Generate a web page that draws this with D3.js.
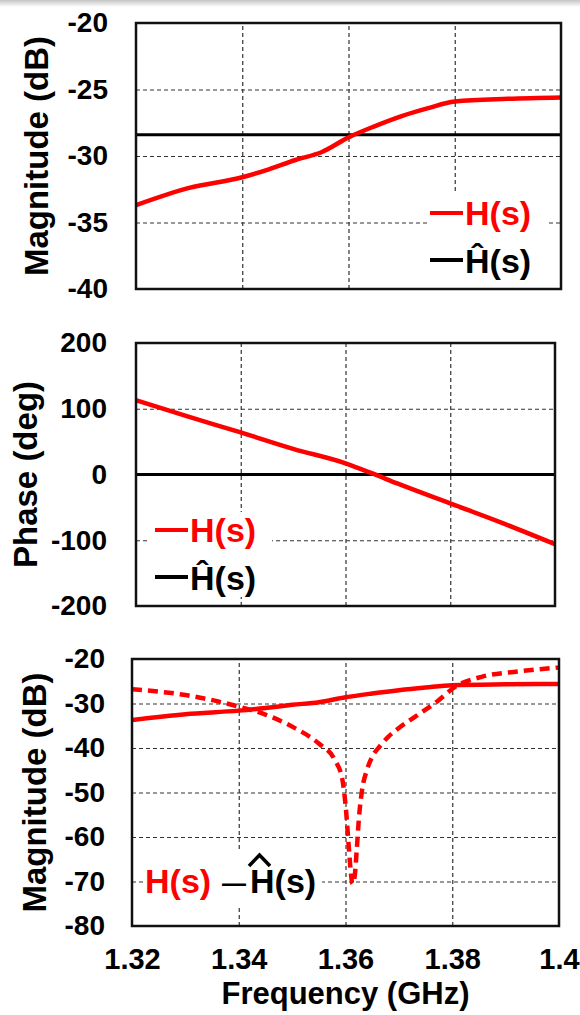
<!DOCTYPE html>
<html>
<head>
<meta charset="utf-8">
<script src="https://cdn.jsdelivr.net/npm/d3@7"></script>
<style>
  body { margin: 0; background: #fff; }
  svg text { font-family: "Liberation Sans", Arial, sans-serif; font-weight: bold; }
</style>
</head>
<body>
<div id="chart"></div>
<script>
var width = 580;
var height = 1015;

// frequency axis (GHz)
var xTicks = [1.32, 1.34, 1.36, 1.38, 1.40];
var xTickLabels = ["1.32", "1.34", "1.36", "1.38", "1.4"];

// |H(s)| in dB
var magFreq = [1.32, 1.33, 1.34, 1.345, 1.35, 1.355, 1.36, 1.365, 1.37, 1.375, 1.38, 1.39, 1.40];
var magH    = [-33.7, -32.4, -31.6, -31.0, -30.3, -29.7, -28.6, -27.75, -27.0, -26.4, -25.9, -25.7, -25.6];
// |H^(s)| in dB (flat)
var hatFreq = [1.32, 1.40];
var magHat  = [-28.4, -28.4];

// phase in degrees
var phaseFreq = [1.32, 1.33, 1.34, 1.35, 1.36, 1.365, 1.37, 1.38, 1.39, 1.40];
var phaseH    = [113, 88, 64, 39, 17, 2, -14, -44, -74, -106];
var phaseHat  = [0, 0];

// |H(s) - H^(s)| in dB
var diffFreq = [1.32, 1.33, 1.34, 1.345, 1.35, 1.355, 1.358, 1.3594, 1.3601, 1.3606, 1.361, 1.3613,
                1.3617, 1.3621, 1.3625, 1.3631, 1.364, 1.365, 1.3665, 1.368, 1.370, 1.373, 1.3771, 1.3806,
                1.3855, 1.3924, 1.40];
var diffMag  = [-26.8, -28.1, -30.7, -32.5, -35.2, -39.0, -42.7, -47, -54, -62, -68, -70.5,
                -69, -63, -56, -49.5, -45, -42, -39.5, -37.5, -35.5, -33, -29.6, -26.2,
                -24, -22.8, -21.9];

var magTicks = [-20, -25, -30, -35, -40];
var phaseTicks = [200, 100, 0, -100, -200];
var diffTicks = [-20, -30, -40, -50, -60, -70, -80];

var svg = d3.select("#chart").append("svg")
  .attr("width", width)
  .attr("height", height);

// faint shadow strip at the very top of the screenshot
var grad = svg.append("defs").append("linearGradient")
  .attr("id", "topshade").attr("x1", 0).attr("x2", 0).attr("y1", 0).attr("y2", 1);
grad.append("stop").attr("offset", "0%").attr("stop-color", "#c4c4c4");
grad.append("stop").attr("offset", "100%").attr("stop-color", "#ffffff");
svg.append("rect").attr("x", 0).attr("y", 0).attr("width", width).attr("height", 7)
  .attr("fill", "url(#topshade)");

var red = "#ff0000";

function drawPanel(p) {
  var x = d3.scaleLinear().domain([1.32, 1.40]).range([p.left, p.right]);
  var y = d3.scaleLinear().domain(d3.extent(p.yTicks)).range([p.bottom, p.top]);
  var g = svg.append("g");

  // grid
  var gx = d3.axisBottom(x).tickValues(xTicks.slice(1, -1)).tickSize(-(p.bottom - p.top)).tickFormat("");
  g.append("g").attr("class", "grid").attr("transform", "translate(0," + p.bottom + ")").call(gx);
  var gy = d3.axisLeft(y).tickValues(p.yTicks.slice(1, -1)).tickSize(-(p.right - p.left)).tickFormat("");
  g.append("g").attr("class", "grid").attr("transform", "translate(" + p.left + ",0)").call(gy);
  g.selectAll(".grid .domain").remove();
  g.selectAll(".grid line")
    .attr("stroke", "#333")
    .attr("stroke-width", 1.2)
    .attr("stroke-dasharray", "4,3");

  // legend background hides the grid
  g.append("rect")
    .attr("x", p.box[0]).attr("y", p.box[1])
    .attr("width", p.box[2]).attr("height", p.box[3])
    .attr("fill", "#fff");

  var clipId = "clip" + p.id;
  svg.select("defs").append("clipPath").attr("id", clipId)
    .append("rect").attr("x", p.left).attr("y", p.top)
    .attr("width", p.right - p.left).attr("height", p.bottom - p.top);

  p.series.forEach(function(s) {
    var line = d3.line()
      .x(function(d, i) { return x(s.x[i]); })
      .y(function(d) { return y(d); })
      .curve(d3.curveMonotoneX);
    g.append("path")
      .datum(s.y)
      .attr("clip-path", "url(#" + clipId + ")")
      .attr("fill", "none")
      .attr("stroke", s.color)
      .attr("stroke-width", s.w)
      .attr("stroke-dasharray", s.dash || null)
      .attr("stroke-linejoin", "round")
      .attr("d", line);
  });

  // frame
  g.append("rect")
    .attr("x", p.left).attr("y", p.top)
    .attr("width", p.right - p.left).attr("height", p.bottom - p.top)
    .attr("fill", "none").attr("stroke", "#111").attr("stroke-width", 2.5);

  // y tick labels
  var ya = d3.axisLeft(y).tickValues(p.yTicks).tickSize(0).tickPadding(p.pad)
    .tickFormat(function(d) { return String(d); });
  var yg = g.append("g").attr("transform", "translate(" + p.left + ",0)").call(ya);
  yg.select(".domain").remove();
  yg.selectAll("text").attr("font-size", 28).attr("fill", "#000")
    .style("font-family", "'Liberation Sans', Arial, sans-serif").style("font-weight", "bold");

  // y title
  g.append("text")
    .attr("transform", "translate(" + p.titleX + "," + ((p.top + p.bottom) / 2) + ") rotate(-90)")
    .attr("text-anchor", "middle")
    .attr("font-size", 33)
    .attr("fill", "#000")
    .text(p.title);

  if (p.xAxis) {
    var xa = d3.axisBottom(x).tickValues(xTicks).tickSize(0).tickPadding(22)
      .tickFormat(function(d, i) { return xTickLabels[i]; });
    var xg = g.append("g").attr("transform", "translate(0," + p.bottom + ")").call(xa);
    xg.select(".domain").remove();
    xg.selectAll("text").attr("font-size", 29).attr("fill", "#000")
      .style("font-family", "'Liberation Sans', Arial, sans-serif").style("font-weight", "bold");
    g.append("text")
      .attr("x", (p.left + p.right) / 2).attr("y", 1004)
      .attr("text-anchor", "middle")
      .attr("font-size", 31)
      .attr("fill", "#000")
      .text("Frequency (GHz)");
  }
  return g;
}

function legendPair(g, lx, ry, by) {
  g.append("line").attr("x1", lx).attr("x2", lx + 33).attr("y1", ry).attr("y2", ry)
    .attr("stroke", red).attr("stroke-width", 4);
  g.append("text").attr("x", lx + 35).attr("y", ry + 12).attr("font-size", 34)
    .attr("fill", red).text("H(s)");
  g.append("line").attr("x1", lx).attr("x2", lx + 33).attr("y1", by).attr("y2", by)
    .attr("stroke", "#000").attr("stroke-width", 4);
  g.append("text").attr("x", lx + 35).attr("y", by + 13).attr("font-size", 34)
    .attr("fill", "#000").text("\u0124(s)");
}

var top1 = drawPanel({
  id: 1, left: 136, right: 561, top: 23, bottom: 289,
  yTicks: magTicks, pad: 28, titleX: 48, title: "Magnitude (dB)",
  box: [429, 193, 118, 96],
  series: [
    { x: hatFreq, y: magHat, color: "#000", w: 3 },
    { x: magFreq, y: magH, color: red, w: 4.5 }
  ]
});
legendPair(top1, 430, 213, 260);

var mid = drawPanel({
  id: 2, left: 136, right: 555, top: 343, bottom: 606,
  yTicks: phaseTicks, pad: 29, titleX: 37, title: "Phase (deg)",
  box: [148, 512, 124, 85],
  series: [
    { x: hatFreq, y: phaseHat, color: "#000", w: 3 },
    { x: phaseFreq, y: phaseH, color: red, w: 4.5 }
  ]
});
legendPair(mid, 155, 530, 577);

var bot = drawPanel({
  id: 3, left: 132, right: 559, top: 659, bottom: 926,
  yTicks: diffTicks, pad: 27, titleX: 46, title: "Magnitude (dB)",
  box: [145, 852, 177, 55], xAxis: true,
  series: [
    { x: magFreq, y: magH, color: red, w: 4.5 },
    { x: diffFreq, y: diffMag, color: red, w: 4.5, dash: "10,6" }
  ]
});
bot.append("text").attr("x", 145).attr("y", 893).attr("font-size", 34).attr("fill", red).text("H(s)");
bot.append("text").attr("x", 222).attr("y", 891).attr("font-size", 24).attr("fill", "#000").text("\u2014");
bot.append("text").attr("x", 250).attr("y", 893).attr("font-size", 34).attr("fill", "#000").text("H(s)");
bot.append("path").attr("d", "M249,866 L259.5,855 L270,866")
  .attr("fill", "none").attr("stroke", "#000").attr("stroke-width", 3.5);
</script>
</body>
</html>
